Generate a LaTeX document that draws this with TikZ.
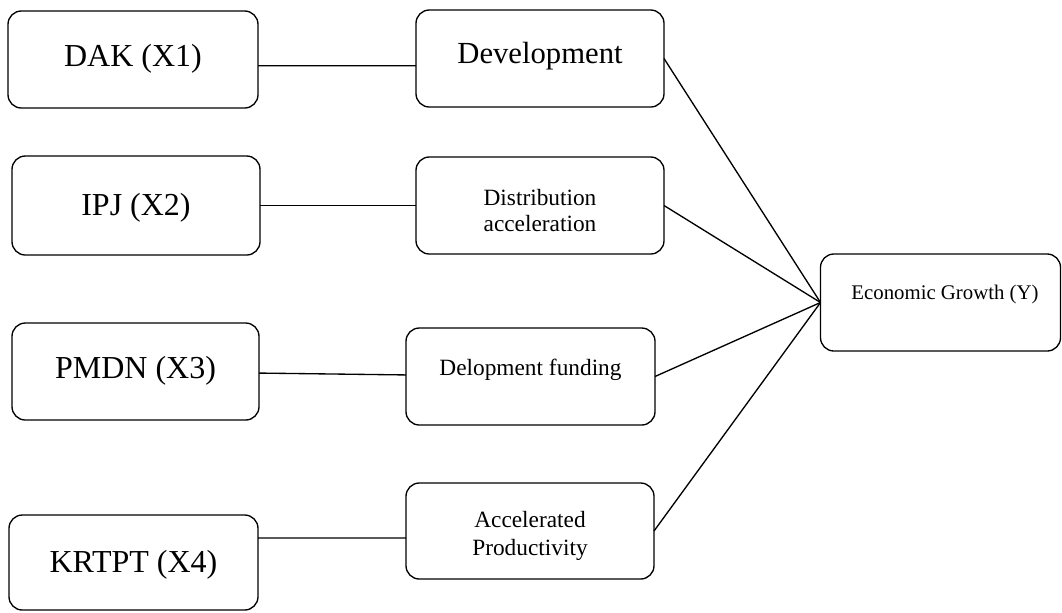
\documentclass[tikz,border=0pt]{standalone}
\usepackage{fontspec}
\setmainfont{Liberation Serif}
\tikzset{
  box/.style={draw, line width=1pt, rounded corners=10pt, minimum width=186pt,
    minimum height=72.75pt, inner sep=0pt, outer sep=0pt, align=center},
  link/.style={line width=1pt}
}
\begin{document}
\begin{tikzpicture}[x=0.75pt,y=-0.75pt]
  \useasboundingbox (0,0) rectangle (1062,612);
  % left column
  \node[box, minimum width=187.5pt, font=\fontsize{24}{28}\selectfont, text depth=6pt] (dak) at (133,59.5) {DAK (X1)};
  \node[box, minimum height=74.25pt, font=\fontsize{24}{28}\selectfont, text depth=2pt] (ipj) at (136,205.5) {IPJ (X2)};
  \node[box, minimum width=185.25pt, font=\fontsize{24}{28}\selectfont, text depth=6pt] (pmdn) at (135.5,371.5) {PMDN (X3)};
  \node[box, minimum width=186.75pt, minimum height=71.25pt, font=\fontsize{24}{28}\selectfont, text depth=2pt] (krtpt) at (133.5,562.5) {KRTPT (X4)};
  % middle column
  \node[box, font=\fontsize{23}{27}\selectfont, text depth=8.7pt] (devel) at (540,58.5) {Development};
  \node[box, font=\fontsize{17.5}{19.5}\selectfont] (distr) at (540,205.5) {\rule{0pt}{19.5pt}Distribution\\acceleration};
  \node[box, minimum width=186.75pt, font=\fontsize{17.5}{21}\selectfont, text depth=13.9pt] (fund) at (530.5,376.5) {Delopment funding};
  \node[box, minimum height=72pt, font=\fontsize{17.5}{21}\selectfont] (accel) at (530,531) {\rule{0pt}{18.8pt}Accelerated\\Productivity};
  % right
  \node[box, minimum width=180pt, font=\fontsize{15.6}{19}\selectfont, text depth=14.6pt] (econ) at (940.5,302.5) {\hspace*{6.75pt}Economic Growth (Y)};

  \draw[link] ([yshift=-4.7pt]dak.east) -- ([yshift=-5.4pt]devel.west);
  \draw[link] (ipj) -- (distr);
  \draw[link] (pmdn) -- (fund);
  \draw[link] ([yshift=18.4pt]krtpt.east) -- ([yshift=-5.2pt]accel.west);
  \foreach \n in {devel,distr,fund,accel}
    \draw[link] (\n.east) -- (econ.west);
\end{tikzpicture}
\end{document}
